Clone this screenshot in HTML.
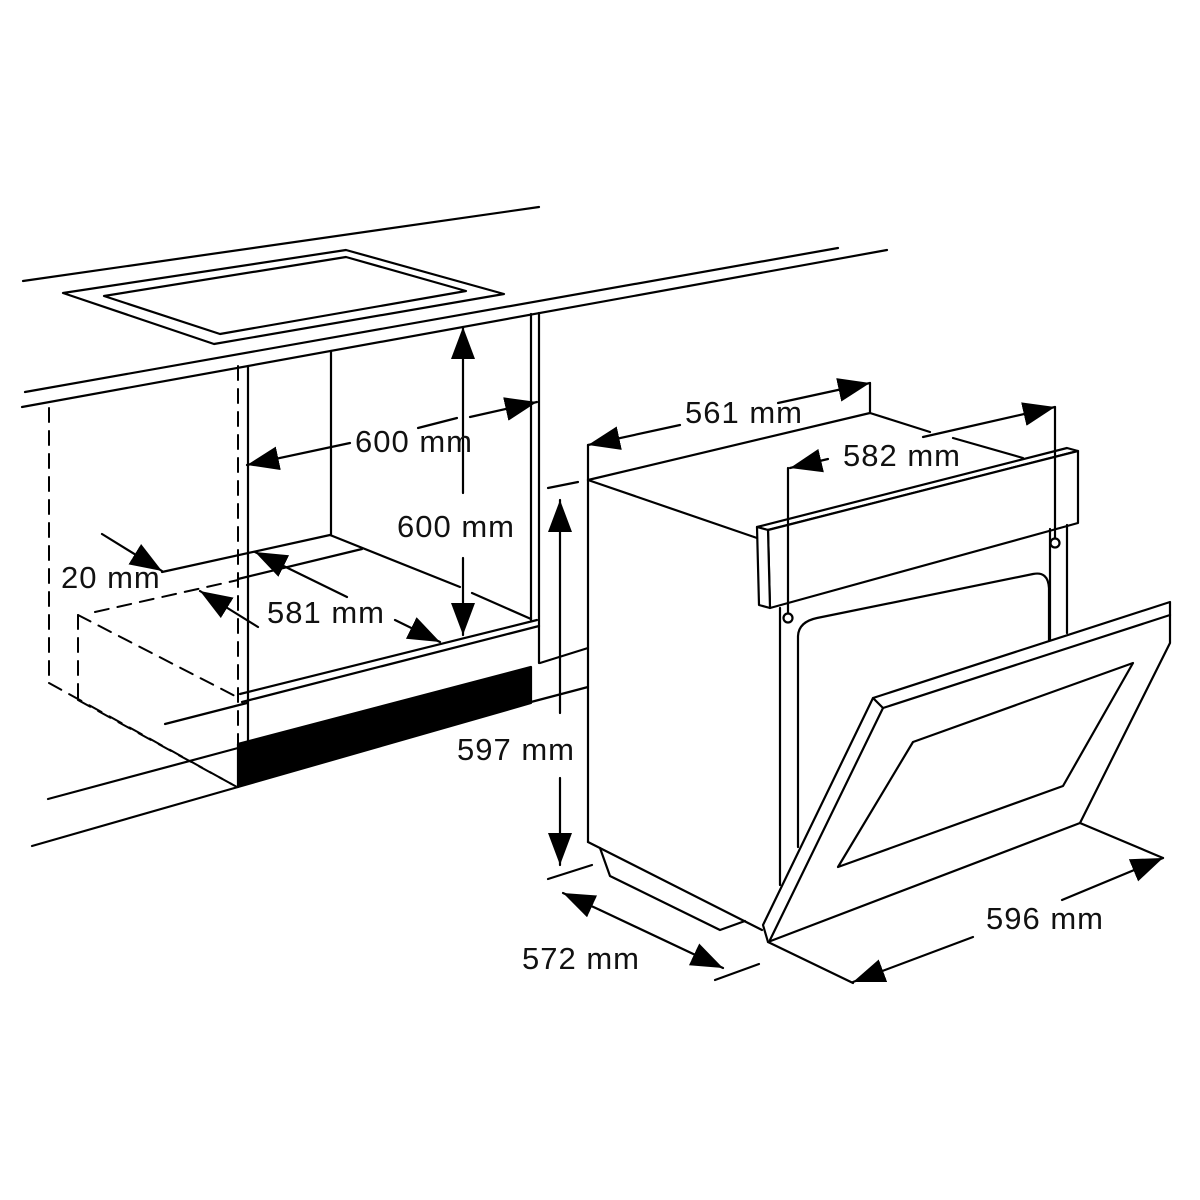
<!DOCTYPE html>
<html><head><meta charset="utf-8"><style>
html,body{margin:0;padding:0;background:#fff}
svg{display:block}
text{font-family:"Liberation Sans",sans-serif;font-size:31px;fill:#111;letter-spacing:1px}
</style></head><body>
<svg width="1200" height="1200" viewBox="0 0 1200 1200" xmlns="http://www.w3.org/2000/svg">
<defs>
<marker id="a" markerUnits="userSpaceOnUse" markerWidth="34" markerHeight="24" refX="32" refY="12" orient="auto">
<path d="M0,0 L32,12 L0,24 z" fill="#000"/>
</marker>
</defs>
<g fill="none" stroke="#000" stroke-width="2.2" stroke-linecap="round" stroke-linejoin="round">
<!-- countertop -->
<line x1="23" y1="281" x2="539" y2="207"/>
<line x1="25" y1="392" x2="838" y2="248"/>
<line x1="22" y1="407" x2="887" y2="250"/>
<polygon points="63,293 346,250 504,294 214,344"/>
<polygon points="104,296 346,257 466,291 220,334"/>
<!-- cabinet -->
<line x1="248" y1="366" x2="248" y2="742"/>
<line x1="331" y1="351" x2="331" y2="535"/>
<line x1="531" y1="314" x2="531" y2="620"/>
<line x1="539" y1="313" x2="539" y2="663"/>
<line x1="330" y1="535" x2="162" y2="572"/>
<line x1="362" y1="549" x2="238" y2="579"/>
<line x1="330" y1="535" x2="460" y2="587"/>
<line x1="472" y1="593" x2="531" y2="619"/>
<line x1="240" y1="694" x2="537" y2="620"/>
<line x1="242" y1="702" x2="539" y2="626"/>
<line x1="165" y1="724" x2="247" y2="703"/>
<line x1="540" y1="663" x2="588" y2="648"/>
<line x1="531" y1="702" x2="588" y2="687"/>
<line x1="48" y1="799" x2="238" y2="748"/>
<line x1="32" y1="846" x2="238" y2="787"/>
<polygon points="238,744 531,667 531,703 238,787" fill="#000"/>
<!-- dashed -->
<g stroke-dasharray="14,9" stroke-width="2">
<line x1="238" y1="366" x2="238" y2="787"/>
<line x1="49" y1="408" x2="49" y2="683"/>
<line x1="49" y1="683" x2="237" y2="787"/>
<line x1="78" y1="615" x2="78" y2="700"/>
<line x1="78" y1="615" x2="237" y2="697"/>
<line x1="78" y1="700" x2="237" y2="787"/>
<line x1="95" y1="612" x2="238" y2="580"/>
</g>
<!-- oven body -->
<line x1="588" y1="480" x2="588" y2="842"/>
<line x1="588" y1="480" x2="870" y2="413"/>
<line x1="588" y1="480" x2="757" y2="538"/>
<line x1="870" y1="413" x2="870" y2="383"/>
<line x1="870" y1="413" x2="930" y2="432"/>
<line x1="953" y1="438" x2="1023" y2="458"/>
<polygon points="757,527 1067,448 1078,451 768,530" fill="#fff"/>
<polygon points="768,530 1078,451 1078,523 770,608" fill="#fff"/>
<polygon points="757,527 768,530 770,608 759,605" fill="#fff"/>
<line x1="780" y1="608" x2="780" y2="885"/>
<line x1="1067" y1="525" x2="1067" y2="633"/>
<line x1="1050" y1="529" x2="1050" y2="640"/>
<path d="M798,847 L798,637 Q798,622 817,618 L1033,574 Q1048,571 1049,588 L1049,640"/>
<circle cx="788" cy="618" r="4.5"/>
<circle cx="1055" cy="543" r="4.5"/>
<!-- foot -->
<line x1="588" y1="842" x2="762" y2="930"/>
<polyline points="600,848 610,876 720,930 745,921"/>
<!-- door -->
<polygon points="768,942 763,925 873,698 1170,602 1170,643 1080,823" fill="#fff"/>
<line x1="770" y1="940" x2="883" y2="708"/>
<line x1="883" y1="708" x2="1170" y2="615"/>
<line x1="873" y1="698" x2="883" y2="708"/>
<polygon points="838,867 913,742 1133,663 1063,786"/>
<line x1="1080" y1="823" x2="1163" y2="858"/>
<line x1="768" y1="942" x2="853" y2="983"/>
<!-- dimension arrows -->
<line x1="350" y1="443" x2="247" y2="465" marker-end="url(#a)"/>
<line x1="418" y1="428" x2="457" y2="418"/>
<line x1="470" y1="417" x2="537" y2="402" marker-end="url(#a)"/>
<line x1="463" y1="493" x2="463" y2="327" marker-end="url(#a)"/>
<line x1="463" y1="558" x2="463" y2="635" marker-end="url(#a)"/>
<line x1="102" y1="534" x2="162" y2="571" marker-end="url(#a)"/>
<line x1="347" y1="597" x2="255" y2="552" marker-end="url(#a)"/>
<line x1="258" y1="627" x2="200" y2="591" marker-end="url(#a)"/>
<line x1="395" y1="620" x2="440" y2="642" marker-end="url(#a)"/>
<line x1="548" y1="488" x2="578" y2="482"/>
<line x1="548" y1="879" x2="592" y2="865"/>
<line x1="560" y1="713" x2="560" y2="500" marker-end="url(#a)"/>
<line x1="560" y1="778" x2="560" y2="865" marker-end="url(#a)"/>
<line x1="588" y1="445" x2="588" y2="480"/>
<line x1="680" y1="425" x2="588" y2="445" marker-end="url(#a)"/>
<line x1="778" y1="403" x2="870" y2="383" marker-end="url(#a)"/>
<line x1="923" y1="437" x2="1055" y2="407" marker-end="url(#a)"/>
<line x1="1055" y1="407" x2="1055" y2="538"/>
<line x1="828" y1="459" x2="790" y2="468" marker-end="url(#a)"/>
<line x1="788" y1="468" x2="788" y2="613"/>
<line x1="600" y1="910" x2="563" y2="893" marker-end="url(#a)"/>
<line x1="600" y1="910" x2="723" y2="968" marker-end="url(#a)"/>
<line x1="715" y1="980" x2="759" y2="964"/>
<line x1="1062" y1="900" x2="1163" y2="858" marker-end="url(#a)"/>
<line x1="973" y1="937" x2="853" y2="982" marker-end="url(#a)"/>
</g>
<g>
<text x="355" y="452">600 mm</text>
<text x="397" y="537">600 mm</text>
<text x="61" y="588">20 mm</text>
<text x="267" y="623">581 mm</text>
<text x="457" y="760">597 mm</text>
<text x="685" y="423">561 mm</text>
<text x="843" y="466">582 mm</text>
<text x="522" y="969">572 mm</text>
<text x="986" y="929">596 mm</text>
</g>
</svg>
</body></html>
